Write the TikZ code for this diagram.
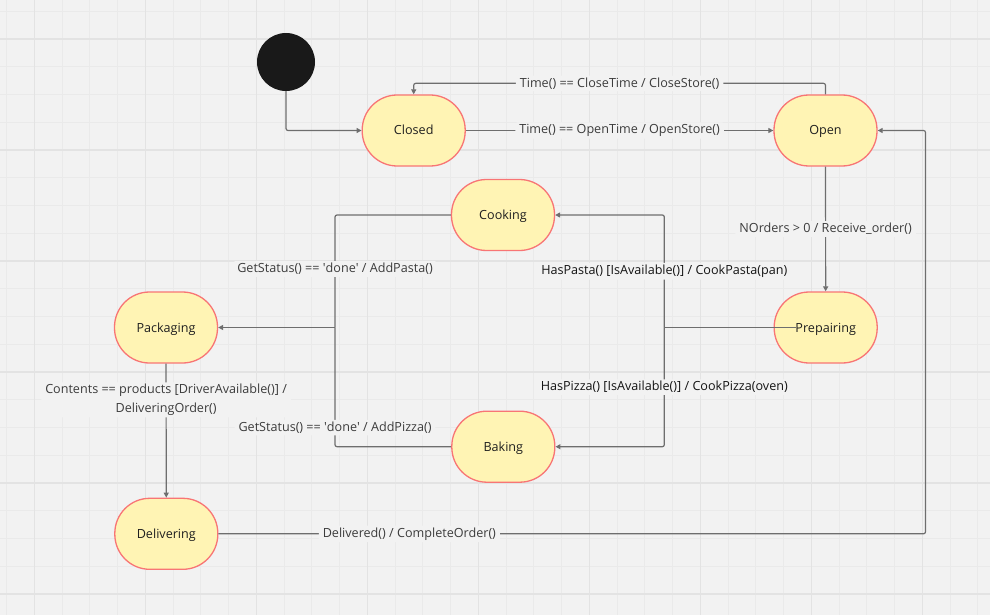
\documentclass[tikz,border=0pt]{standalone}
\usepackage{fontspec}
\setmainfont{Open Sans}
\usetikzlibrary{arrows.meta,positioning}
\definecolor{canvas}{HTML}{F2F2F2}
\definecolor{gridminor}{HTML}{EAEAEA}
\definecolor{gridmajor}{HTML}{E3E3E3}
\definecolor{stfill}{HTML}{FFF4B4}
\definecolor{stline}{HTML}{F87575}
\definecolor{wirecol}{HTML}{6E6E6E}
\definecolor{lblcol}{HTML}{3C3C3C}
\tikzset{
	stbox/.style={draw=stline,fill=stfill,line width=1.3pt,rounded corners=35pt,minimum width=103pt,minimum height=71pt,inner sep=0pt,text height=9pt,text depth=0pt,text=black!88,font=\fontsize{12.6}{14}\selectfont},
	startdot/.style={circle,fill=black!90,minimum size=58pt,inner sep=0pt},
	wire/.style={draw=wirecol,line width=1.2pt,rounded corners=2pt},
	-wire/.style={wire,-{Triangle[length=5pt,width=5pt]}},
	lbl/.style={fill=canvas,inner xsep=4pt,inner ysep=2pt,text=lblcol,font=\fontsize{12.6}{18.3}\selectfont,align=center},
	dark/.style={text=black!92}
}

\begin{document}
\begin{tikzpicture}[x=1pt,y=-1pt]
	\useasboundingbox (0,0) rectangle (990,615);
	% canvas grid
	\fill[canvas] (0,0) rectangle (990,615);
	\foreach \i in {0,...,35} \draw[gridminor,line width=0.8pt] ({6.55+27.75*\i},0) -- ++(0,615);
	\foreach \j in {0,...,22} \draw[gridminor,line width=0.8pt] (0,{11.25+27.75*\j}) -- ++(990,0);
	\foreach \i in {0,...,8} \draw[gridmajor,line width=1.4pt] ({34.3+111*\i},0) -- ++(0,615);
	\foreach \j in {0,...,5} \draw[gridmajor,line width=1.4pt] (0,{39+111*\j}) -- ++(990,0);

	\node[startdot] (begin) at (286,62) {};
	\node[stbox] (closed) at (413.7,130.5) {Closed};
	\node[stbox] (open) at (825.5,130.5) {Open};
	\node[stbox] (cooking) at (503,215) {Cooking};
	\node[stbox] (prep) at (825.7,327.5) {Prepairing};
	\node[stbox] (pack) at (166,327.5) {Packaging};
	\node[stbox] (baking) at (503.3,446.7) {Baking};
	\node[stbox] (deliv) at (166.3,533.8) {Delivering};
	\coordinate (forkR) at (664.3,327.5);
	\coordinate (joinL) at (335,327.5);
	\coordinate (cornerD) at (925.5,533.8);

	\draw[-wire] (begin) |- (closed);
	\draw[-wire] (closed) -- node[lbl]{Time() == OpenTime / OpenStore()} (open);
	\draw[-wire] (open.north) -- ++(0,-11) -| node[lbl,pos=0.25]{Time() == CloseTime / CloseStore()} (closed.north);
	\draw[-wire] (open) -- node[lbl]{NOrders > 0 / Receive\_order()} (prep);
	\draw[wire] ([xshift=22pt]prep.west) -- (forkR);
	\draw[-wire] (forkR) |- node[lbl,dark,pos=0.25]{HasPasta() [IsAvailable()] / CookPasta(pan)} (cooking);
	\draw[-wire] (forkR) |- node[lbl,dark,pos=0.25]{HasPizza() [IsAvailable()] / CookPizza(oven)} (baking);
	\draw[wire] (cooking) -| node[lbl,pos=0.74]{GetStatus() == \textquotesingle done\textquotesingle{} / AddPasta()} (joinL);
	\draw[wire] (baking) -| node[lbl,pos=0.58]{GetStatus() == \textquotesingle done\textquotesingle{} / AddPizza()} (joinL);
	\draw[-wire] (joinL) -- (pack);
	\draw[-wire] (pack) -- node[lbl,pos=0.27]{Contents == products [DriverAvailable()] /\\DeliveringOrder()} (deliv);
	\draw[-wire] (deliv) -- node[lbl,pos=0.27]{Delivered() / CompleteOrder()} (cornerD) |- (open);
\end{tikzpicture}
\end{document}
